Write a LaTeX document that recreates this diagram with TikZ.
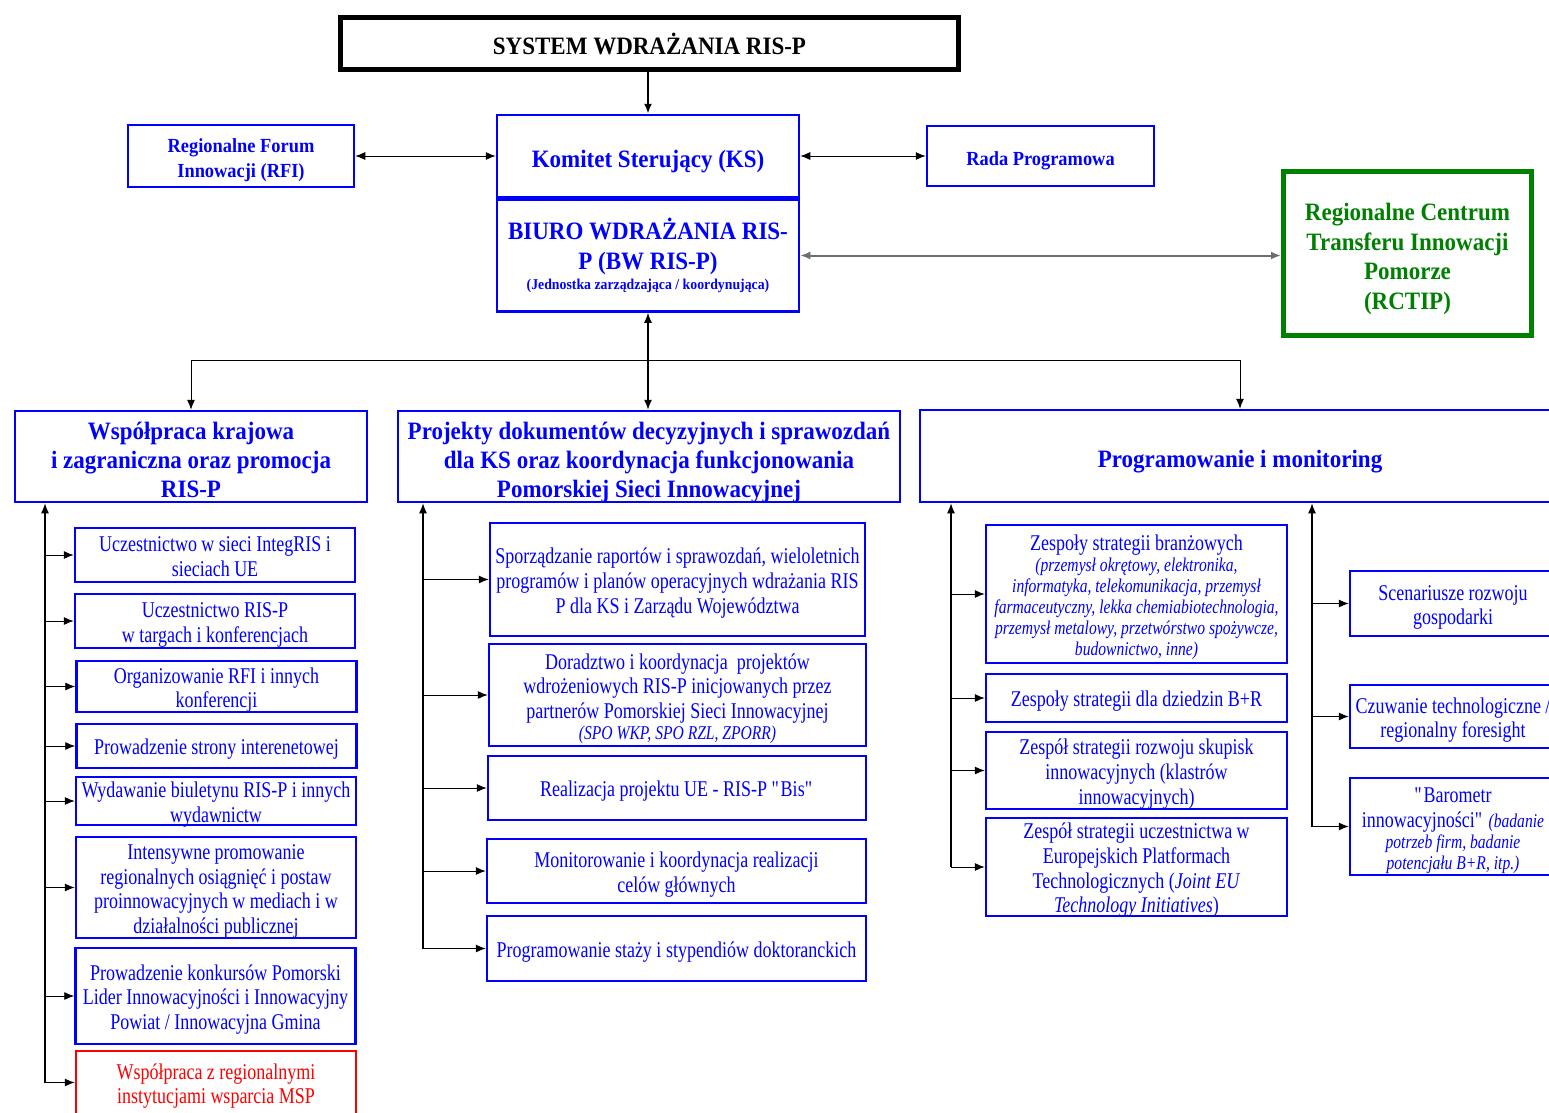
\documentclass[tikz,border=0pt]{standalone}
\usepackage{fontspec}
\setmainfont{Liberation Serif}[FakeStretch=0.8]
\newfontfamily\hdfam{Liberation Serif}[FakeStretch=0.92]
\usetikzlibrary{arrows.meta}
\definecolor{risblue}{RGB}{0, 0, 255}
\definecolor{risgreen}{RGB}{0, 128, 0}
\definecolor{risred}{RGB}{255, 0, 0}
\definecolor{risgray}{RGB}{110, 110, 110}
\newcommand\bodyfnt{\fontsize{22.5}{24.7}\selectfont\lineskiplimit=-20pt}
\newcommand\hdfnt{\hdfam\bfseries\fontsize{25}{29}\selectfont\lineskiplimit=-20pt}
\newcommand\smit[1]{{\itshape\fontsize{19.5}{21}\selectfont #1}}
\newcommand\topb{\rule{0pt}{1.09em}}
\newcommand\toph{\rule{0pt}{1.24em}}
\newcommand\botm{\rule[-0.3em]{0pt}{0pt}}

\begin{document}
\begin{tikzpicture}[x=1pt, y=-1pt,
    box/.style={draw=risblue, line width=2.5pt, text=risblue, align=center, inner xsep=0pt, inner ysep=-8pt, font=\bodyfnt},
    head/.style={box, font=\hdfnt},
    conn/.style={-{Latex[length=10pt,width=8pt]}, line width=0.9pt},
    dbl/.style={{Latex[length=10pt,width=8pt]}-{Latex[length=10pt,width=8pt]}, line width=0.9pt}]
            \useasboundingbox (0,0) rectangle (1549,1112);
            \clip (0,0) rectangle (1549,1112);
            \node[head, draw=black, text=black, line width=5pt, minimum width=618, minimum height=52]  (title) at ( 649.5,  43.5) {SYSTEM WDRAŻANIA RIS-P};
            \node[head, minimum width=302, minimum height=82]                                         (ks)    at ( 648.0, 156.0) {\toph Komitet Sterujący (KS)\botm};
            \node[head, minimum width=302, minimum height=112, anchor=north, font=\hdfnt\fontsize{25}{30}\selectfont] (bw) at (ks.south)
                 {\rule{0pt}{23pt}BIURO WDRAŻANIA RIS-\\P (BW RIS-P)\\[-10pt]{\fontsize{15}{18}\selectfont (Jednostka zarządzająca / koordynująca)\botm}};
            \node[head, minimum width=226, minimum height=62, font=\hdfnt\fontsize{20}{25}\selectfont] (rfi)  at ( 241.0, 156.0) {\toph Regionalne Forum\\Innowacji (RFI)\botm};
            \node[head, minimum width=227, minimum height=60, font=\hdfnt\fontsize{20}{25}\selectfont] (rada) at (1040.5, 156.0) {\toph Rada Programowa\botm};
            \node[head, draw=risgreen, text=risgreen, line width=5pt, minimum width=248, minimum height=164, font=\hdfnt\fontsize{25}{29.5}\selectfont]
                 (rctip) at (1407.5, 253.0) {\toph Regionalne Centrum\\Transferu Innowacji\\Pomorze\\(RCTIP)\botm};

            \node[head, minimum width=352, minimum height=91] (hdL) at ( 191.0, 456.5) {\toph Współpraca krajowa\\i zagraniczna oraz promocja\\RIS-P\botm};
            \node[head, minimum width=502, minimum height=91] (hdM) at ( 649.0, 456.5) {\toph Projekty dokumentów decyzyjnych i sprawozdań\\dla KS oraz koordynacja funkcjonowania\\Pomorskiej Sieci Innowacyjnej\botm};
            \node[head, minimum width=640, minimum height=92] (hdR) at (1240.0, 456.0) {\toph Programowanie i monitoring\botm};

            \node[box, minimum width=280, minimum height=54]  (wk1) at ( 215.0, 555.0) {\topb Uczestnictwo w sieci IntegRIS i\\sieciach UE\botm};
            \node[box, minimum width=280, minimum height=54]  (wk2) at ( 215.0, 621.0) {\topb Uczestnictwo RIS-P\\w targach i konferencjach\botm};
            \node[box, minimum width=280, minimum height=51]  (wk3) at ( 216.5, 686.5) {\topb Organizowanie RFI i innych\\konferencji\botm};
            \node[box, minimum width=280, minimum height=44]  (wk4) at ( 216.5, 746.0) {\topb Prowadzenie strony interenetowej\botm};
            \node[box, minimum width=280, minimum height=48]  (wk5) at ( 216.0, 801.0) {\topb Wydawanie biuletynu RIS-P i innych\\wydawnictw\botm};
            \node[box, minimum width=280, minimum height=101] (wk6) at ( 216.0, 887.5) {\topb Intensywne promowanie\\regionalnych osiągnięć i postaw\\proinnowacyjnych w mediach i w\\działalności publicznej\botm};
            \node[box, minimum width=280, minimum height=96]  (wk7) at ( 215.5, 996.0) {\topb Prowadzenie konkursów Pomorski\\Lider Innowacyjności i Innowacyjny\\Powiat / Innowacyjna Gmina\botm};
            \node[box, draw=risred, text=risred, minimum width=280, minimum height=63] (wk8) at ( 216.0,1082.5) {\topb Współpraca z regionalnymi\\instytucjami wsparcia MSP\botm};

            \node[box, minimum width=375, minimum height=113] (pd1) at ( 677.5, 579.5) {\topb Sporządzanie raportów i sprawozdań, wieloletnich\\programów i planów operacyjnych wdrażania RIS\\P dla KS i Zarządu Województwa\botm};
            \node[box, minimum width=377, minimum height=102] (pd2) at ( 677.5, 695.0) {\topb Doradztwo i koordynacja\ \ projektów\\wdrożeniowych RIS-P inicjowanych przez\\partnerów Pomorskiej Sieci Innowacyjnej\\[-3.7pt]\smit{(SPO WKP, SPO RZL, ZPORR)\botm}};
            \node[box, minimum width=378, minimum height=64]  (pd3) at ( 677.0, 788.0) {\topb Realizacja projektu UE - RIS-P \textquotedbl Bis\textquotedbl\botm};
            \node[box, minimum width=379, minimum height=64]  (pd4) at ( 676.5, 871.0) {\topb Monitorowanie i koordynacja realizacji\\celów głównych\botm};
            \node[box, minimum width=379, minimum height=65]  (pd5) at ( 676.5, 948.5) {\topb Programowanie staży i stypendiów doktoranckich\botm};

            \node[box, minimum width=301, minimum height=138] (pm1) at (1136.5, 594.0) {\topb Zespoły strategii branżowych\\[-3.7pt]\smit{(przemysł okrętowy, elektronika,}\\[-3.7pt]\smit{informatyka, telekomunikacja, przemysł}\\[-3.7pt]\smit{farmaceutyczny, lekka chemiabiotechnologia,}\\[-3.7pt]\smit{przemysł metalowy, przetwórstwo spożywcze,}\\[-3.7pt]\smit{budownictwo, inne)\botm}};
            \node[box, minimum width=301, minimum height=48]  (pm2) at (1136.5, 698.0) {\topb Zespoły strategii dla dziedzin B+R\botm};
            \node[box, minimum width=301, minimum height=77]  (pm3) at (1136.5, 770.5) {\topb Zespół strategii rozwoju skupisk\\innowacyjnych (klastrów\\innowacyjnych)\botm};
            \node[box, minimum width=301, minimum height=98]  (pm4) at (1136.5, 867.0) {\topb Zespół strategii uczestnictwa w\\Europejskich Platformach\\Technologicznych (\textit{Joint EU}\\\textit{Technology Initiatives})\botm};

            \node[box, minimum width=206, minimum height=65]  (pb1) at (1453.0, 603.5) {\topb Scenariusze rozwoju\\gospodarki\botm};
            \node[box, minimum width=206, minimum height=63]  (pb2) at (1453.0, 716.5) {\topb Czuwanie technologiczne /\\regionalny foresight\botm};
            \node[box, minimum width=206, minimum height=97]  (pb3) at (1453.0, 826.5) {\topb\textquotedbl Barometr\\innowacyjności\textquotedbl{} \smit{(badanie}\\[-3.7pt]\smit{potrzeb firm, badanie}\\[-3.7pt]\smit{potencjału B+R, itp.)\botm}};

            \draw[conn, line width=2pt] (ks.north |- title.south) -- (ks.north);
            \draw[dbl] (rfi.east) -- (rfi.east -| ks.west);
            \draw[dbl] (ks.east) -- (ks.east -| rada.west);
            \draw[dbl, draw=risgray, line width=2pt] (bw.east) -- (bw.east -| rctip.west);
            \draw[dbl, line width=1.3pt] (bw.south) -- (bw.south |- hdM.north);
            \coordinate (jn) at (bw.south |- 0,360);
            \draw[conn] (jn) -| (hdL.north);
            \draw[conn] (jn) -| (hdR.north);

            \coordinate (spL) at (  45, 505);
            \coordinate (spM) at ( 423, 505);
            \coordinate (spA) at ( 951, 505);
            \coordinate (spB) at (1312, 505);
            \draw[conn, line width=1.3pt] (wk8.west -| spL) -- (spL |- hdL.south);
            \draw[conn, line width=1.3pt] (pd5.west -| spM) -- (spM |- hdM.south);
            \draw[conn, line width=1.3pt] (pm4.west -| spA) -- (spA |- hdR.south);
            \draw[conn, line width=1.3pt] (pb3.west -| spB) -- (spB |- hdR.south);
            \foreach \i in {1,...,8} \draw[conn] (wk\i.west -| spL) -- (wk\i.west);
            \foreach \i in {1,...,5} \draw[conn] (pd\i.west -| spM) -- (pd\i.west);
            \foreach \i in {1,...,4} \draw[conn] (pm\i.west -| spA) -- (pm\i.west);
            \foreach \i in {1,...,3} \draw[conn] (pb\i.west -| spB) -- (pb\i.west);
            \end{tikzpicture}
\end{document}
